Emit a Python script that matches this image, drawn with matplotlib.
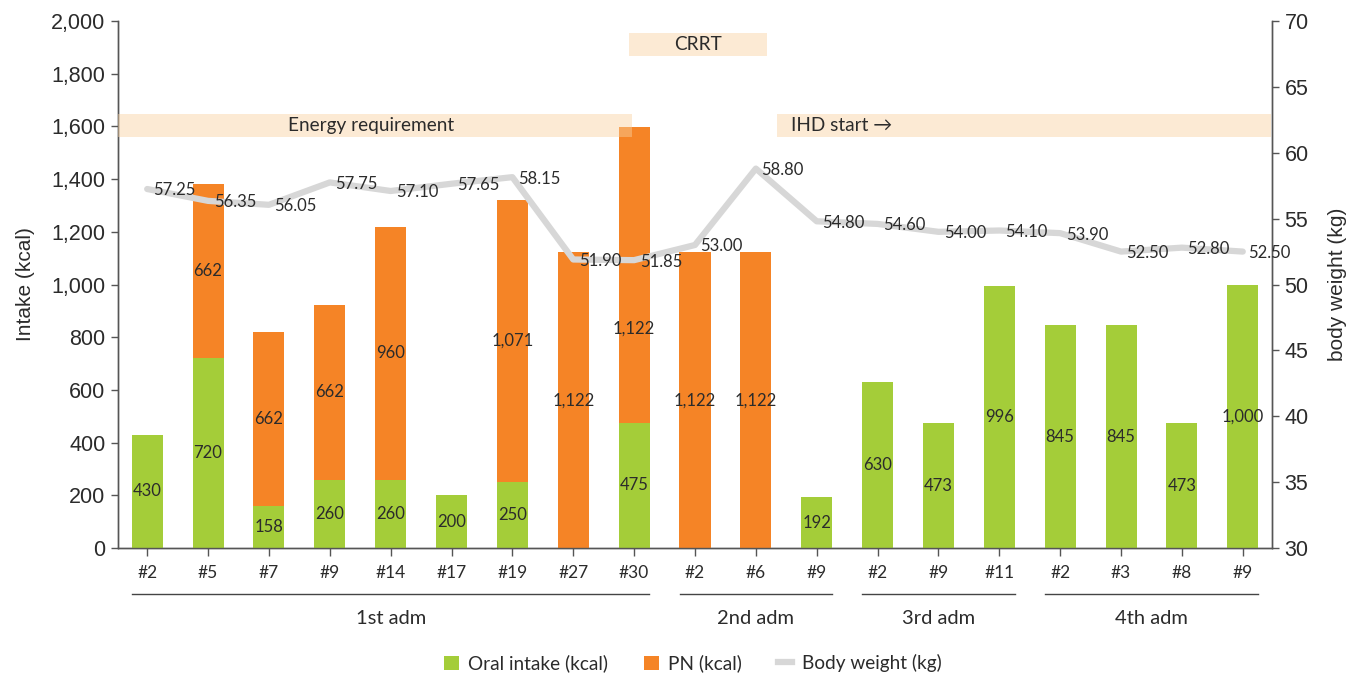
import matplotlib
matplotlib.use("Agg")
import matplotlib.pyplot as plt
from matplotlib.patches import Patch, Rectangle
from matplotlib.lines import Line2D
import numpy as np

categories = ["#2", "#5", "#7", "#9", "#14", "#17", "#19", "#27", "#30",
              "#2", "#6", "#9", "#2", "#9", "#11", "#2", "#3", "#8", "#9"]
oral = [430, 720, 158, 260, 260, 200, 250, 0, 475, 0, 0, 192, 630, 473, 996, 845, 845, 473, 1000]
pn = [0, 662, 662, 662, 960, 0, 1071, 1122, 1122, 1122, 1122, 0, 0, 0, 0, 0, 0, 0, 0]
weight = [57.25, 56.35, 56.05, 57.75, 57.10, 57.65, 58.15, 51.90, 51.85, 53.00, 58.80,
          54.80, 54.60, 54.00, 54.10, 53.90, 52.50, 52.80, 52.50]
groups = ["1st adm", "2nd adm", "3rd adm", "4th adm"]
group_ranges = [(0, 8), (9, 11), (12, 14), (15, 18)]

GREEN = "#a4cd39"
ORANGE = "#f58426"
GRAY = "#d7d7d7"
BOX = "#f9d1a0"
TXT = "#2b2b2b"
AXFONT = "Liberation Sans"
LBFONT = "Lato"

fig = plt.figure(figsize=(13.67, 6.76), dpi=100)
ax = fig.add_axes([0.0863, 0.1893, 0.8442, 0.7796])
ax2 = ax.twinx()
ax.set_zorder(ax2.get_zorder() + 1)
ax.patch.set_visible(False)

x = np.arange(len(categories))
w = 0.51
ax.bar(x, oral, width=w, color=GREEN, zorder=2)
ax.bar(x, pn, width=w, bottom=oral, color=ORANGE, zorder=2)

# PN label placement within its segment (0.5 = middle); #30 label was lowered
pn_label_frac = [0.5] * len(categories)
pn_label_frac[8] = 0.32

for i in range(len(x)):
    if oral[i] > 0:
        ax.text(x[i], oral[i] / 2, f"{oral[i]:,}", ha="center", va="center",
                fontsize=12, color=TXT, family=LBFONT, zorder=5)
    if pn[i] > 0:
        ax.text(x[i], oral[i] + pn[i] * pn_label_frac[i], f"{pn[i]:,}", ha="center", va="center",
                fontsize=12, color=TXT, family=LBFONT, zorder=5)

ax.set_ylim(0, 2000)
ax2.set_ylim(30, 70)
wl = [(v - 30) / 40 * 2000 for v in weight]
ax.plot(x, wl, color=GRAY, lw=4.5, solid_joinstyle="round", solid_capstyle="round", zorder=3)
for i in range(len(x)):
    ax.annotate(f"{weight[i]:.2f}", (x[i], wl[i]), xytext=(4, -1), textcoords="offset points",
                ha="left", va="center", fontsize=12, color=TXT, family=LBFONT, zorder=6)

xl = (-0.48, len(categories) - 1 + 0.48)
ax.set_xlim(*xl)

ax.add_patch(Rectangle((xl[0], 1560), 7.96 - xl[0], 87, facecolor=BOX, alpha=0.45,
                       edgecolor="none", zorder=4))
ax.text((xl[0] + 7.96) / 2 - 0.07, 1603, "Energy requirement", ha="center", va="center",
        fontsize=13.7, color=TXT, family=LBFONT, zorder=6)
ax.add_patch(Rectangle((7.91, 1867), 10.18 - 7.91, 87, facecolor=BOX, alpha=0.45,
                       edgecolor="none", zorder=4))
ax.text((7.91 + 10.18) / 2, 1910, "CRRT", ha="center", va="center",
        fontsize=13.7, color=TXT, family=LBFONT, zorder=6)
ax.add_patch(Rectangle((10.34, 1560), 18.46 - 10.34, 87, facecolor=BOX, alpha=0.45,
                       edgecolor="none", zorder=4))
ax.text(10.57, 1603, "IHD start \u2192", ha="left", va="center",
        fontsize=13.7, color=TXT, family=[LBFONT, "DejaVu Sans"], zorder=6)

ax.set_yticks(np.arange(0, 2001, 200))
ax.set_yticklabels([f"{v:,}" for v in range(0, 2001, 200)], family=AXFONT, fontsize=15.5, color=TXT)
ax2.set_yticks(np.arange(30, 71, 5))
ax2.set_yticklabels([str(v) for v in range(30, 71, 5)], family=AXFONT, fontsize=15.5, color=TXT)
ax.set_xticks(x)
ax.set_xticklabels(categories, family=LBFONT, fontsize=12.5, color=TXT)
ax.tick_params(axis="x", length=6, width=1, color="#555555", pad=6)
ax.tick_params(axis="y", length=5, width=1, color="#555555", pad=4)
ax2.tick_params(axis="y", length=5, width=1, color="#555555", pad=4)
ax.set_ylabel("Intake (kcal)", family=AXFONT, fontsize=15, color=TXT, labelpad=12)
ax2.set_ylabel("body weight (kg)", family=AXFONT, fontsize=15, color=TXT, labelpad=14)

for a in (ax, ax2):
    a.spines["top"].set_visible(False)
    for s in ("left", "right", "bottom"):
        a.spines[s].set_color("#555555")
        a.spines[s].set_linewidth(1)

trans = ax.get_xaxis_transform()
for g, (s, e) in zip(groups, group_ranges):
    ax.add_line(Line2D([s - 0.25, e + 0.25], [-0.0873, -0.0873], transform=trans,
                       color="#444444", lw=1, clip_on=False))
    ax.text((s + e) / 2, -0.133, g, transform=trans, ha="center", va="center",
            fontsize=14.5, color=TXT, family=LBFONT)

handles = [Patch(facecolor=GREEN, label="Oral intake (kcal)"),
           Patch(facecolor=ORANGE, label="PN (kcal)"),
           Line2D([0], [0], color=GRAY, lw=4.5, label="Body weight (kg)")]
leg = fig.legend(handles=handles, loc="center", bbox_to_anchor=(0.507, 0.019), ncol=3,
                 frameon=False, prop={"family": LBFONT, "size": 13.7}, handlelength=0.75,
                 handleheight=0.75, columnspacing=1.9, handletextpad=0.5)
for t in leg.get_texts():
    t.set_color(TXT)

fig.savefig("out.png", dpi=100)
